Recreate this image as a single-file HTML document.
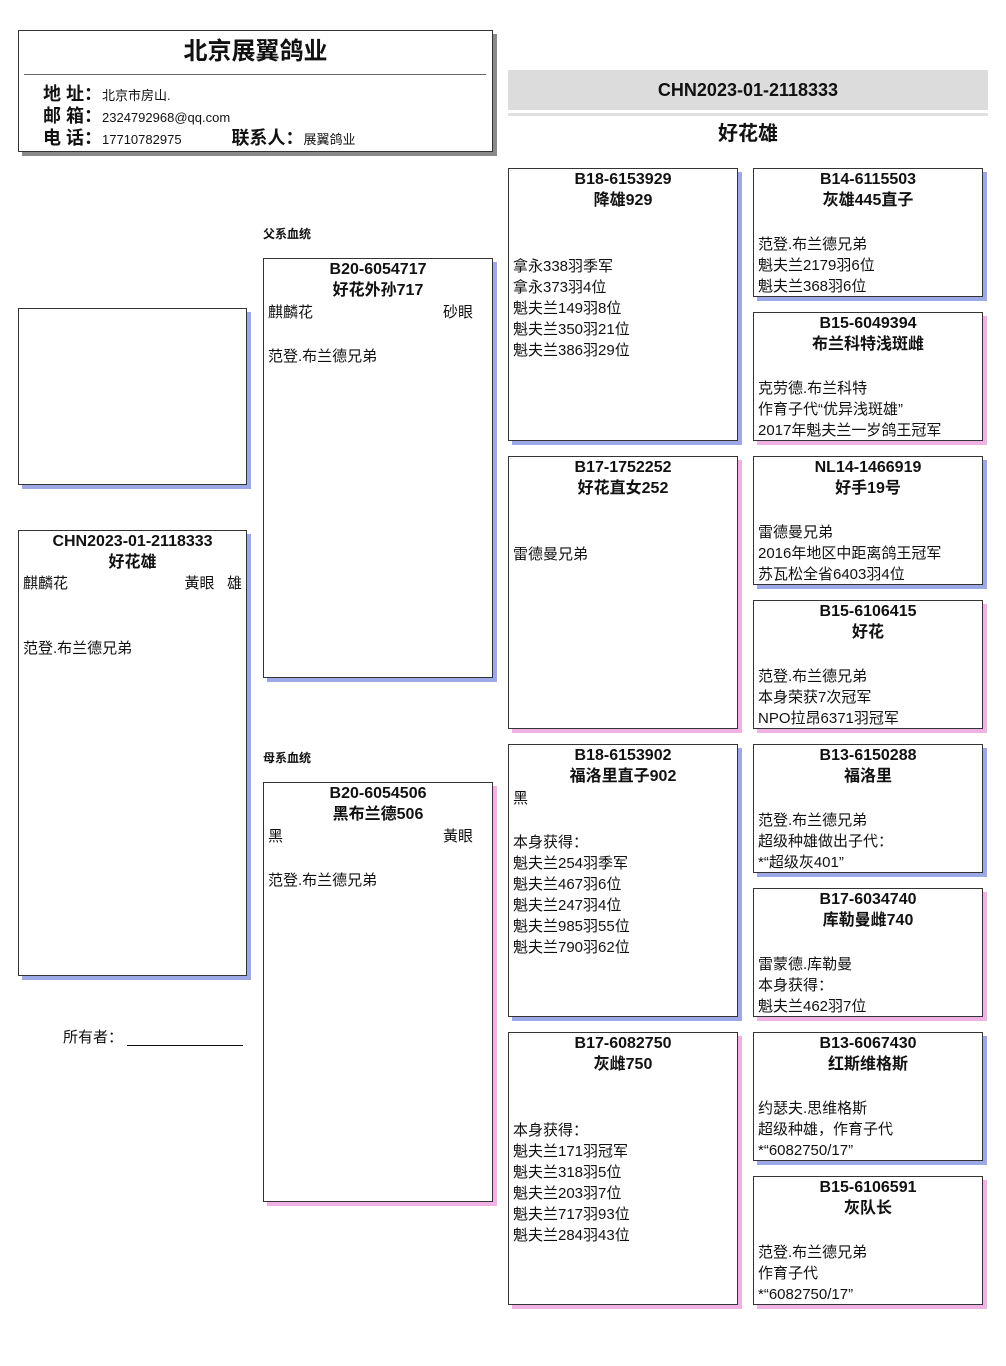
<!DOCTYPE html>
<html><head><meta charset="utf-8"><style>
*{margin:0;padding:0;box-sizing:border-box}
body{width:1006px;height:1366px;background:#fff;position:relative;overflow:hidden;font-family:"Liberation Sans","Noto Sans CJK SC",sans-serif;color:#111}
.a{position:absolute}
.box{position:absolute;border:1px solid #333;background:#fff}
.m{box-shadow:4px 4px 0 #9da8e6}
.f{box-shadow:4px 4px 0 #f0b2e4}
.t{position:absolute;left:0;right:0;top:0;text-align:center;font-weight:bold;font-size:16px;line-height:21px}
.b{position:absolute;left:4px;right:4px;font-size:15px;line-height:21px;white-space:nowrap}
.lab{font-size:18px;font-weight:bold}
.val{font-size:13px}
</style></head><body>

<div class="box" style="left:18px;top:30px;width:475px;height:122px;box-shadow:4px 4px 0 #8a8a8a">
 <div class="a" style="left:0;right:0;top:6px;text-align:center;font-size:24px;font-weight:bold;line-height:30px">北京展翼鸽业</div>
 <div class="a" style="left:5px;right:6px;top:43px;border-top:1px solid #666"></div>
 <div class="a" style="left:24px;top:53px;line-height:21px;white-space:nowrap">
  <div><span class="lab">地 址：</span><span class="val">北京市房山.</span></div>
  <div><span class="lab">邮 箱：</span><span class="val">2324792968@qq.com</span></div>
  <div><span class="lab">电 话：</span><span class="val">17710782975</span><span class="lab" style="margin-left:50px">联系人：</span><span class="val">展翼鸽业</span></div>
 </div>
</div>

<div class="a" style="left:508px;top:70px;width:480px;height:40px;background:#dcdcdc;text-align:center;font-size:18px;font-weight:bold;line-height:40px">CHN2023-01-2118333</div>
<div class="a" style="left:508px;top:113px;width:480px;height:3px;background:#e0e0e0"></div>
<div class="a" style="left:508px;top:121px;width:480px;text-align:center;font-size:20px;font-weight:bold;line-height:26px">好花雄</div>

<div class="box m" style="left:18px;top:308px;width:229px;height:177px"></div>

<div class="box m" style="left:18px;top:530px;width:229px;height:446px">
 <div class="t">CHN2023-01-2118333<br>好花雄</div>
 <div class="b" style="top:42px">麒麟花<span style="float:right">黃眼&nbsp;&nbsp;&nbsp;雄</span></div>
 <div class="b" style="top:107px">范登.布兰德兄弟</div>
</div>

<div class="a" style="left:63px;top:1028px;font-size:15px;line-height:20px">所有者：</div>
<div class="a" style="left:127px;top:1045px;width:116px;border-top:1px solid #111"></div>

<div class="a" style="left:263px;top:225px;font-size:12px;font-weight:bold">父系血统</div>
<div class="box m" style="left:263px;top:258px;width:230px;height:420px">
 <div class="t">B20-6054717<br>好花外孙717</div>
 <div class="b" style="top:43px;right:19px">麒麟花<span style="float:right">砂眼</span></div>
 <div class="b" style="top:87px">范登.布兰德兄弟</div>
</div>
<div class="a" style="left:263px;top:749px;font-size:12px;font-weight:bold">母系血统</div>
<div class="box f" style="left:263px;top:782px;width:230px;height:420px">
 <div class="t">B20-6054506<br>黑布兰德506</div>
 <div class="b" style="top:43px;right:19px">黑<span style="float:right">黃眼</span></div>
 <div class="b" style="top:87px">范登.布兰德兄弟</div>
</div>

<div class="box m" style="left:508px;top:168px;width:230px;height:273px">
 <div class="t">B18-6153929<br>降雄929</div>
 <div class="b" style="top:87px">拿永338羽季军<br>拿永373羽4位<br>魁夫兰149羽8位<br>魁夫兰350羽21位<br>魁夫兰386羽29位</div>
</div>
<div class="box f" style="left:508px;top:456px;width:230px;height:273px">
 <div class="t">B17-1752252<br>好花直女252</div>
 <div class="b" style="top:87px">雷德曼兄弟</div>
</div>
<div class="box m" style="left:508px;top:744px;width:230px;height:273px">
 <div class="t">B18-6153902<br>福洛里直子902</div>
 <div class="b" style="top:43px">黑</div>
 <div class="b" style="top:87px">本身获得：<br>魁夫兰254羽季军<br>魁夫兰467羽6位<br>魁夫兰247羽4位<br>魁夫兰985羽55位<br>魁夫兰790羽62位</div>
</div>
<div class="box f" style="left:508px;top:1032px;width:230px;height:273px">
 <div class="t">B17-6082750<br>灰雌750</div>
 <div class="b" style="top:87px">本身获得：<br>魁夫兰171羽冠军<br>魁夫兰318羽5位<br>魁夫兰203羽7位<br>魁夫兰717羽93位<br>魁夫兰284羽43位</div>
</div>

<div class="box m" style="left:753px;top:168px;width:230px;height:129px">
 <div class="t">B14-6115503<br>灰雄445直子</div>
 <div class="b" style="top:65px">范登.布兰德兄弟<br>魁夫兰2179羽6位<br>魁夫兰368羽6位</div>
</div>
<div class="box f" style="left:753px;top:312px;width:230px;height:129px">
 <div class="t">B15-6049394<br>布兰科特浅斑雌</div>
 <div class="b" style="top:65px">克劳德.布兰科特<br>作育子代“优异浅斑雄”<br>2017年魁夫兰一岁鸽王冠军</div>
</div>
<div class="box m" style="left:753px;top:456px;width:230px;height:129px">
 <div class="t">NL14-1466919<br>好手19号</div>
 <div class="b" style="top:65px">雷德曼兄弟<br>2016年地区中距离鸽王冠军<br>苏瓦松全省6403羽4位</div>
</div>
<div class="box f" style="left:753px;top:600px;width:230px;height:129px">
 <div class="t">B15-6106415<br>好花</div>
 <div class="b" style="top:65px">范登.布兰德兄弟<br>本身荣获7次冠军<br>NPO拉昂6371羽冠军</div>
</div>
<div class="box m" style="left:753px;top:744px;width:230px;height:129px">
 <div class="t">B13-6150288<br>福洛里</div>
 <div class="b" style="top:65px">范登.布兰德兄弟<br>超级种雄做出子代：<br>*“超级灰401”</div>
</div>
<div class="box f" style="left:753px;top:888px;width:230px;height:129px">
 <div class="t">B17-6034740<br>库勒曼雌740</div>
 <div class="b" style="top:65px">雷蒙德.库勒曼<br>本身获得：<br>魁夫兰462羽7位</div>
</div>
<div class="box m" style="left:753px;top:1032px;width:230px;height:129px">
 <div class="t">B13-6067430<br>红斯维格斯</div>
 <div class="b" style="top:65px">约瑟夫.思维格斯<br>超级种雄，作育子代<br>*“6082750/17”</div>
</div>
<div class="box f" style="left:753px;top:1176px;width:230px;height:129px">
 <div class="t">B15-6106591<br>灰队长</div>
 <div class="b" style="top:65px">范登.布兰德兄弟<br>作育子代<br>*“6082750/17”</div>
</div>

</body></html>
